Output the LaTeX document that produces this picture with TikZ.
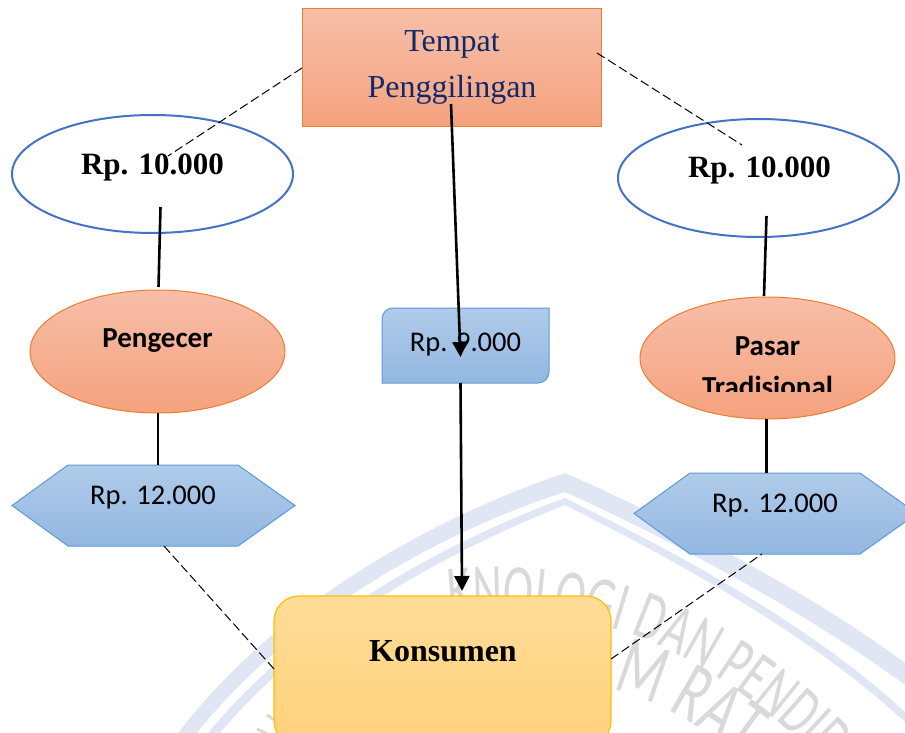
\documentclass[tikz,border=0pt]{standalone}
\usepackage{fontspec}
\setmainfont{Liberation Serif}
\newfontfamily\calibrish{Carlito}
\newfontfamily\wmfont[FakeStretch=0.65]{Carlito}
\usetikzlibrary{shapes.geometric,arrows.meta,decorations.text}
\definecolor{orgtop}{HTML}{F7BEA8}
\definecolor{orgbot}{HTML}{F5A27E}
\definecolor{orgline}{HTML}{ED7D31}
\definecolor{blutop}{HTML}{B0CBEA}
\definecolor{blubot}{HTML}{93B7E1}
\definecolor{bluline}{HTML}{5B9BD5}
\definecolor{yeltop}{HTML}{FFDC98}
\definecolor{yelbot}{HTML}{FFD27C}
\definecolor{yelline}{HTML}{FFC000}
\definecolor{ringblue}{HTML}{4472C4}
\definecolor{navytext}{HTML}{0F2A6B}
\definecolor{wmband}{HTML}{E1E6F5}
\definecolor{wmtext}{HTML}{D9D9D9}
\tikzset{
  orangefill/.style={top color=orgtop,bottom color=orgbot,draw=orgline,line width=1pt},
  bluefill/.style={top color=blutop,bottom color=blubot,draw=bluline,line width=1pt},
  yellowfill/.style={top color=yeltop,bottom color=yelbot,draw=yelline,line width=1.2pt},
  ring/.style={ellipse,draw=ringblue,line width=2pt,fill=white,inner sep=0pt},
  oval/.style={ellipse,orangefill,inner sep=0pt,minimum width=255pt},
  serifbig/.style={font=\fontsize{32}{38}\selectfont,anchor=base,inner sep=0pt},
  seriflabel/.style={serifbig,font=\fontsize{31}{38}\selectfont\bfseries},
  sanslabel/.style={font=\calibrish\fontsize{28.5}{34}\selectfont,anchor=base,inner sep=0pt},
  sansbold/.style={font=\calibrish\fontsize{29}{34}\selectfont\bfseries,anchor=base,inner sep=0pt},
  solidlink/.style={black,line width=2.6pt},
  dashlink/.style={black,line width=1pt,dash pattern=on 9pt off 4pt},
  arrowlink/.style={solidlink,-{Triangle[length=15pt,width=15pt]}},
  wmletters/.style 2 args={decorate,decoration={text along path,text align=left,
     text={|\wmfont\fontsize{#1}{#1}\selectfont\color{wmtext}|#2}}}
}
\begin{document}
\begin{tikzpicture}[x=1pt,y=-1pt]
\useasboundingbox (0,0) rectangle (905,733);
\clip (0,0) rectangle (905,733);
% watermark
\fill[wmband] (565,473) .. controls (650,510) and (800,585) .. (905,663) -- (905,685) .. controls (800,607) and (650,530) .. (565,492) .. controls (445,530) and (290,615) .. (197,733) -- (178,733) .. controls (280,600) and (440,515) .. (565,473) -- cycle;
\fill[wmband] (565,498) .. controls (650,540) and (800,615) .. (905,712) -- (905,722) .. controls (800,625) and (650,548) .. (565,505) .. controls (455,548) and (310,625) .. (220,733) -- (208,733) .. controls (300,620) and (450,540) .. (565,498) -- cycle;
\path[wmletters={70}{KNOLOGI DAN PENDID}] (450,615) .. controls (600,600) and (725,650) .. (860,805);
\path[wmletters={84}{M RAT}] (612,690) .. controls (650,695) and (720,735) .. (790,800);
\draw[wmtext,line width=3pt] (267,715) -- (276,721);
\draw[wmtext,line width=3pt] (257,729) -- (276,738);
% shapes
\node[draw=none,inner sep=0pt,minimum width=299pt,minimum height=118pt,orangefill] (tempat) at (451.5,68) {};
\node[ring,minimum width=281pt,minimum height=118pt] (ringL) at (152.5,174) {};
\node[ring,minimum width=281pt,minimum height=118pt] (ringR) at (758.5,178) {};
\node[oval,minimum height=123pt] (pengecer) at (157.5,351.5) {};
\node[oval,minimum height=122pt] (pasar) at (767.5,358) {};
\path[bluefill] (382,319) -- (382,383) -- (538,383) .. controls (544,383) and (549,378) .. (549,372) -- (549,308) -- (393,308) .. controls (387,308) and (382,313) .. (382,319) -- cycle;
\path[bluefill] (12,505.5) -- (68,465) -- (238,465) -- (295,505.5) -- (238,546) -- (68,546) -- cycle;
\path[bluefill] (634,513.5) -- (690,473) -- (860,473) -- (917,513.5) -- (860,554) -- (690,554) -- cycle;
\node[rectangle,rounded corners=25pt,yellowfill,inner sep=0pt,minimum width=337pt,minimum height=150pt] (konsumen) at (442.5,671) {};
% text
\node[serifbig,text=navytext] (t1) at (452,52) {Tempat};
\node[serifbig,text=navytext] (t2) at (452,98) {Penggilingan};
\node[seriflabel] (priceL) at (152.5,175) {Rp. 10.000};
\node[seriflabel] (priceR) at (759.5,178) {Rp. 10.000};
\node[sansbold] (pengecerT) at (157.5,347) {Pengecer};
\node[sansbold] (pasarT) at (767.5,355) {Pasar};
\begin{scope}
\clip (640,360) rectangle (895,391.5);
\node[sansbold] (tradT) at (767.5,396) {Tradisional};
\end{scope}
\node[sanslabel] (midT) at (465.5,351) {Rp. 9.000};
\node[sanslabel] (hexLT) at (153,504) {Rp. 12.000};
\node[sanslabel] (hexRT) at (775,512.5) {Rp. 12.000};
\node[seriflabel,font=\fontsize{32}{38}\selectfont\bfseries] (konsT) at (443,661) {Konsumen};
% connector ends
\coordinate (a1) at (302,68);   \coordinate (a2) at (168,156);
\coordinate (b1) at (597,53);   \coordinate (b2) at (742,145);
\coordinate (c1) at (164,546);  \coordinate (c2) at (274,669);
\coordinate (d1) at (611,659);  \coordinate (d2) at (762,554);
\coordinate (e1) at (160.5,207); \coordinate (e2) at (158.5,287);
\coordinate (f1) at (158,413);  \coordinate (f2) at (158,465);
\coordinate (g1) at (766.5,216); \coordinate (g2) at (764,296);
\coordinate (h1) at (766.5,419); \coordinate (h2) at (766.5,473);
\coordinate (i1) at (451,104);  \coordinate (i2) at (460.5,357);
\coordinate (j1) at (460.5,383); \coordinate (j2) at (462,591);
\draw[dashlink] (a1) -- (a2);
\draw[dashlink] (b1) -- (b2);
\draw[dashlink] (c1) -- (c2);
\draw[dashlink] (d1) -- (d2);
\draw[solidlink] (e1) -- (e2);
\draw[solidlink] (f1) -- (f2);
\draw[solidlink] (g1) -- (g2);
\draw[solidlink] (h1) -- (h2);
\draw[arrowlink] (i1) -- (i2);
\draw[arrowlink] (j1) -- (j2);
\end{tikzpicture}
\end{document}
